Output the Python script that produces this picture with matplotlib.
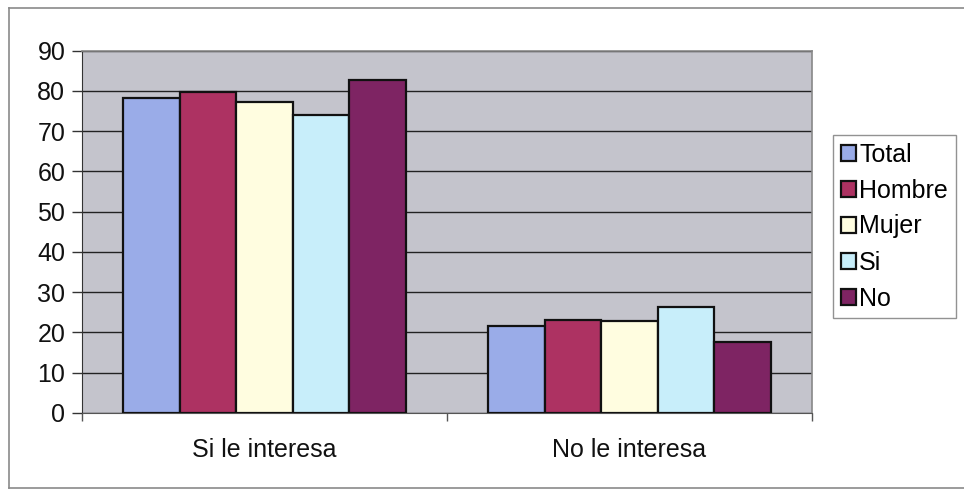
import numpy as np
import matplotlib
matplotlib.use("Agg")
import matplotlib.pyplot as plt
from matplotlib.lines import Line2D

plt.rcParams['font.family'] = ['Liberation Sans', 'DejaVu Sans']

categories = ["Si le interesa", "No le interesa"]
series = ["Total", "Hombre", "Mujer", "Si", "No"]
total = [78.3, 21.7]
hombre = [79.6, 23.0]
mujer = [77.3, 22.9]
si = [74.0, 26.2]
no = [82.7, 17.6]
yticks = [0, 10, 20, 30, 40, 50, 60, 70, 80, 90]

values = [total, hombre, mujer, si, no]
colors = ["#9aace8", "#ad3262", "#fffde0", "#c8eefa", "#7e2463"]

W, H = 964, 492
fig = plt.figure(figsize=(W / 100, H / 100), dpi=100)
fig.patch.set_facecolor("white")

# plot area
left, right, top, bottom = 82, 812, 50.5, 413
ax = fig.add_axes([left / W, 1 - bottom / H, (right - left) / W, (bottom - top) / H])
ax.set_facecolor("#c4c4cc")

x = np.arange(len(categories))
bw = 0.155
for i, (name, vals, c) in enumerate(zip(series, values, colors)):
    ax.bar(x + (i - 2) * bw, vals, bw, color=c, edgecolor="#111111",
           linewidth=1.6, label=name, zorder=3)

ax.set_xlim(-0.5, 1.5)
ax.set_ylim(0, 90)
ax.set_yticks(yticks)
ax.set_yticklabels([str(v) for v in yticks], fontsize=18, color="#111111")
ax.yaxis.grid(True, color="#222222", linewidth=1.0, zorder=1)
ax.set_axisbelow(True)

ax.set_xticks([-0.5, 0.5, 1.5])
ax.set_xticklabels([])
ax.tick_params(axis="x", direction="out", length=6, color="#555555", width=1)
ax.tick_params(axis="y", direction="out", length=7, color="#333333", width=1, pad=5)

for sp in ["top", "right"]:
    ax.spines[sp].set_color("#888888")
    ax.spines[sp].set_linewidth(1.2)
ax.spines["left"].set_color("#333333")
ax.spines["bottom"].set_color("#555555")

for xi, lab in zip(x, categories):
    ax.text(xi, -0.103, lab, transform=ax.get_xaxis_transform(), ha="center",
            va="center", fontsize=18, color="#111111")

# legend
handles = [plt.Rectangle((0, 0), 1, 1, facecolor=c, edgecolor="#111111", linewidth=1.6)
           for c in colors]
leg = fig.legend(handles, series, loc="upper left",
                 bbox_to_anchor=(833 / W, 1 - 135 / H), fontsize=18,
                 frameon=True, fancybox=False, handlelength=0.6, handleheight=0.6,
                 handletextpad=0.15, labelspacing=0.48, borderpad=0.3,
                 borderaxespad=0)
leg.get_frame().set_edgecolor("#777777")
leg.get_frame().set_linewidth(1.0)

# chart-area frame
frame_kw = dict(color="#8a8a8a", linewidth=1.2, transform=fig.transFigure)
fig.add_artist(Line2D([9 / W, 1], [1 - 8 / H, 1 - 8 / H], **frame_kw))
fig.add_artist(Line2D([9 / W, 9 / W], [1 - 8 / H, 1 - 488 / H], **frame_kw))
fig.add_artist(Line2D([9 / W, 1], [1 - 488 / H, 1 - 488 / H], **frame_kw))

fig.savefig("out.png", dpi=100)
